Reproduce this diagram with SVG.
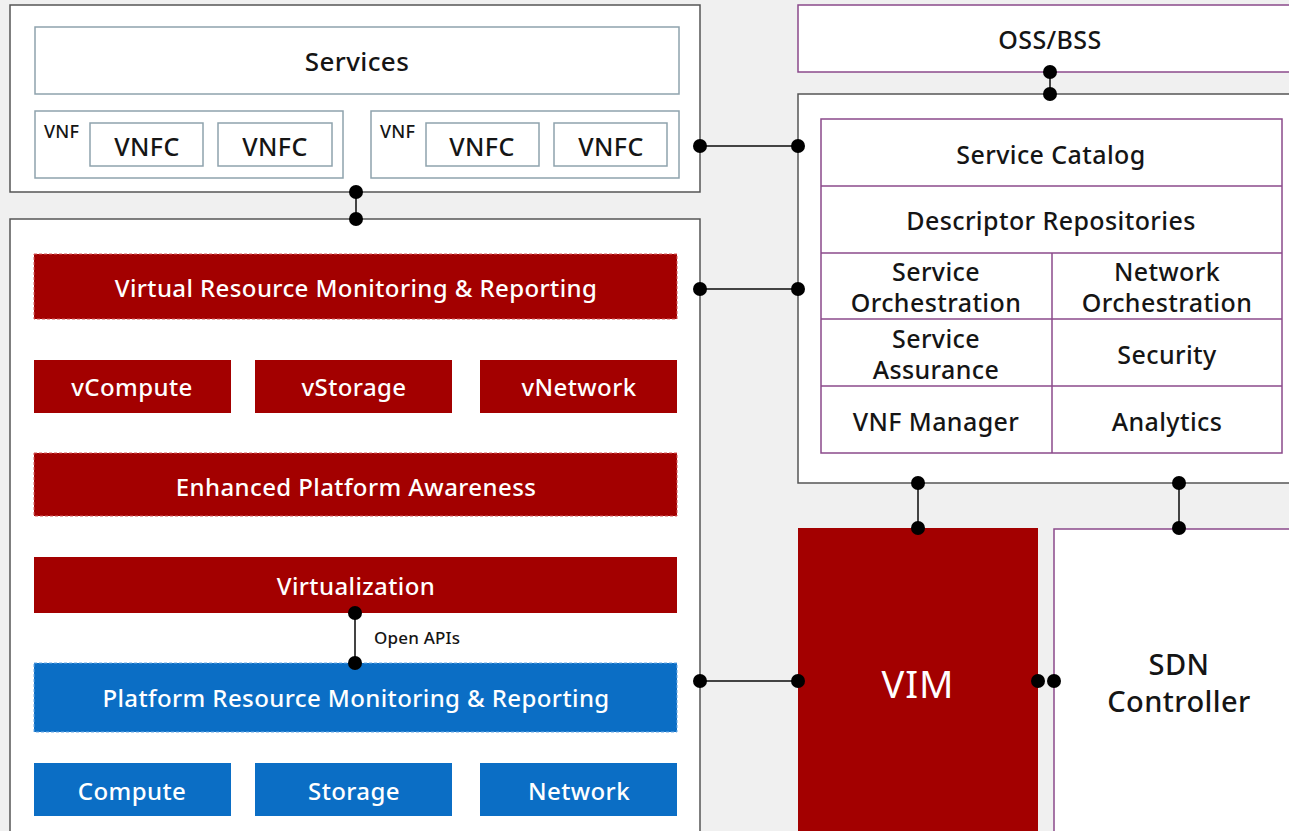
<svg xmlns="http://www.w3.org/2000/svg" width="1289" height="831" viewBox="0 0 1289 831">
<style>
.bg{fill:#f0f0f0}
.outer{fill:#fff;stroke:#555;stroke-width:1.5}
.gb{fill:#fff;stroke:#8ea3ad;stroke-width:1.5}
.pb{fill:#fff;stroke:#8b4a8b;stroke-width:1.5}
.pl{stroke:#8b4a8b;stroke-width:1.5}
.red{fill:#a30000}
.redd{fill:#a30000;stroke:#d65a5a;stroke-width:1;stroke-dasharray:3 2}
.blue{fill:#0b6ec5}
.blued{fill:#0b6ec5;stroke:#6aaae6;stroke-width:1;stroke-dasharray:3 2}
text{font-family:"Noto Sans","Liberation Sans",sans-serif;text-anchor:middle;font-weight:500;letter-spacing:0.4px}
.t{fill:#151515;font-size:25px}
.w{fill:#fff;font-size:24px}
.s{fill:#151515;font-size:17px;text-anchor:start;letter-spacing:0.2px}
.vnf{fill:#151515;font-size:18px;text-anchor:start;letter-spacing:0.2px}
.big{font-size:26px}
.sdn{font-size:29px}
.vim{fill:#fff;font-size:38px;font-weight:400;letter-spacing:1px}
.conn line{stroke:#444;stroke-width:2}
.conn circle{fill:#000}
</style>
<rect class="bg" x="0" y="0" width="1289" height="831"/>

<g id="services-area">
<rect class="outer" x="10" y="5" width="690" height="187"/>
</g>
<g id="services">
<rect class="gb" x="35" y="27" width="644" height="67"/>
<text class="t big" x="357" y="71">Services</text>
</g>
<g id="vnf1">
<rect class="gb" x="35" y="111" width="308" height="67"/>
<text class="vnf" x="44" y="138">VNF</text>
<rect class="gb" x="90" y="123" width="113" height="43"/>
<text class="t" x="147" y="156">VNFC</text>
<rect class="gb" x="218" y="123" width="114" height="43"/>
<text class="t" x="275" y="156">VNFC</text>
</g>
<g id="vnf2">
<rect class="gb" x="371" y="111" width="308" height="67"/>
<text class="vnf" x="380" y="138">VNF</text>
<rect class="gb" x="426" y="123" width="113" height="43"/>
<text class="t" x="482" y="156">VNFC</text>
<rect class="gb" x="554" y="123" width="113" height="43"/>
<text class="t" x="611" y="156">VNFC</text>
</g>

<g id="nfvi">
<rect class="outer" x="10" y="219" width="690" height="620"/>
</g>
<g id="virtual-monitoring">
<rect class="redd" x="34" y="254" width="643" height="65"/>
<text class="w" x="356" y="297">Virtual Resource Monitoring &amp; Reporting</text>
</g>
<g id="vcompute"><rect class="red" x="34" y="360" width="197" height="53"/><text class="w" x="132" y="396">vCompute</text></g>
<g id="vstorage"><rect class="red" x="255" y="360" width="197" height="53"/><text class="w" x="354" y="396">vStorage</text></g>
<g id="vnetwork"><rect class="red" x="480" y="360" width="197" height="53"/><text class="w" x="579" y="396">vNetwork</text></g>
<g id="epa">
<rect class="redd" x="34" y="453" width="643" height="63"/>
<text class="w" x="356" y="496">Enhanced Platform Awareness</text>
</g>
<g id="virtualization">
<rect class="red" x="34" y="557" width="643" height="56"/>
<text class="w" x="356" y="595">Virtualization</text>
</g>
<g id="platform-monitoring">
<rect class="blued" x="34" y="663" width="643" height="69"/>
<text class="w" x="356" y="707">Platform Resource Monitoring &amp; Reporting</text>
</g>
<g id="compute"><rect class="blue" x="34" y="763" width="197" height="53"/><text class="w" x="132" y="800">Compute</text></g>
<g id="storage"><rect class="blue" x="255" y="763" width="197" height="53"/><text class="w" x="354" y="800">Storage</text></g>
<g id="network"><rect class="blue" x="480" y="763" width="197" height="53"/><text class="w" x="579" y="800">Network</text></g>

<g id="oss-bss">
<rect class="pb" x="798" y="5" width="500" height="67"/>
<text class="t" x="1050" y="49">OSS/BSS</text>
</g>
<g id="orchestrator">
<rect class="outer" x="798" y="94" width="500" height="389"/>
<rect class="pb" x="821" y="119" width="461" height="334"/>
<line class="pl" x1="821" y1="186" x2="1282" y2="186"/>
<line class="pl" x1="821" y1="253" x2="1282" y2="253"/>
<line class="pl" x1="821" y1="319" x2="1282" y2="319"/>
<line class="pl" x1="821" y1="386" x2="1282" y2="386"/>
<line class="pl" x1="1052" y1="253" x2="1052" y2="453"/>
<text class="t" x="1051" y="164">Service Catalog</text>
<text class="t" x="1051" y="230">Descriptor Repositories</text>
<text class="t" x="936" y="281">Service</text>
<text class="t" x="936" y="312">Orchestration</text>
<text class="t" x="1167" y="281">Network</text>
<text class="t" x="1167" y="312">Orchestration</text>
<text class="t" x="936" y="348">Service</text>
<text class="t" x="936" y="379">Assurance</text>
<text class="t" x="1167" y="364">Security</text>
<text class="t" x="936" y="431">VNF Manager</text>
<text class="t" x="1167" y="431">Analytics</text>
</g>
<g id="vim">
<rect class="red" x="798" y="528" width="240" height="310"/>
<text class="vim" x="918" y="698">VIM</text>
</g>
<g id="sdn">
<rect class="pb" x="1054" y="529" width="245" height="310"/>
<text class="t sdn" x="1179" y="675">SDN</text>
<text class="t sdn" x="1179" y="712">Controller</text>
</g>

<g id="connectors" class="conn">
<line x1="356" y1="192" x2="356" y2="219"/>
<circle cx="356" cy="192" r="7"/><circle cx="356" cy="219" r="7"/>
<line x1="700" y1="146" x2="798" y2="146"/>
<circle cx="700" cy="146" r="7"/><circle cx="798" cy="146" r="7"/>
<line x1="700" y1="289" x2="798" y2="289"/>
<circle cx="700" cy="289" r="7"/><circle cx="798" cy="289" r="7"/>
<line x1="700" y1="681" x2="798" y2="681"/>
<circle cx="700" cy="681" r="7"/><circle cx="798" cy="681" r="7"/>
<line x1="1050" y1="72" x2="1050" y2="94"/>
<circle cx="1050" cy="72" r="7"/><circle cx="1050" cy="94" r="7"/>
<line x1="918" y1="483" x2="918" y2="528"/>
<circle cx="918" cy="483" r="7"/><circle cx="918" cy="528" r="7"/>
<line x1="1179" y1="483" x2="1179" y2="528"/>
<circle cx="1179" cy="483" r="7"/><circle cx="1179" cy="528" r="7"/>
<circle cx="1038" cy="681" r="7"/><circle cx="1054" cy="681" r="7"/>
<line x1="355" y1="613" x2="355" y2="663"/>
<circle cx="355" cy="613" r="7"/><circle cx="355" cy="663" r="7"/>
<text class="s" x="374" y="644">Open APIs</text>
</g>
</svg>
